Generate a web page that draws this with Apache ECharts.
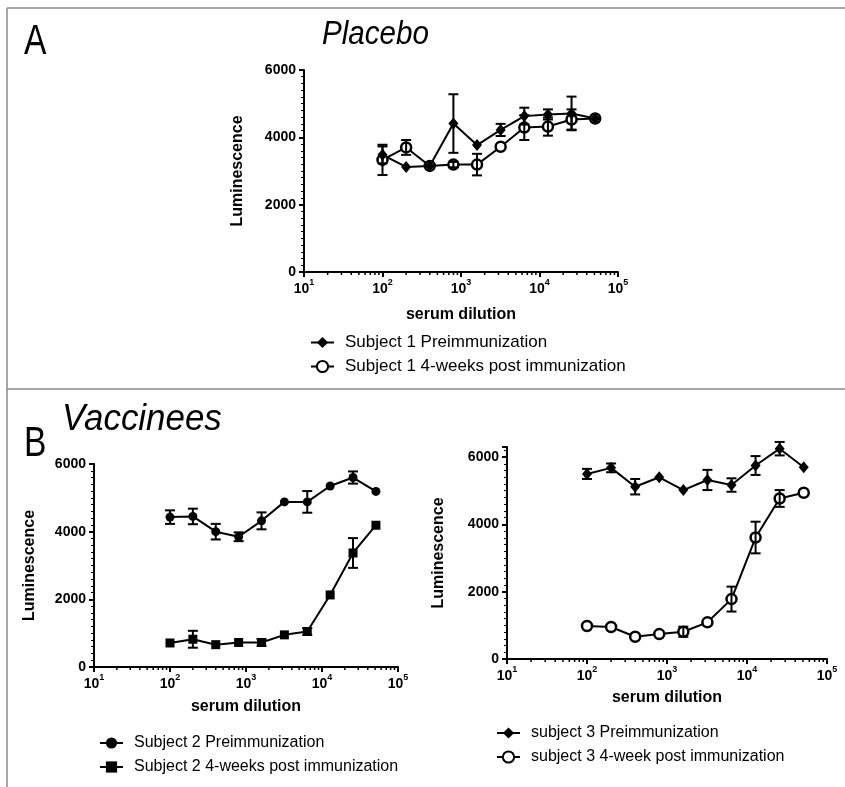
<!DOCTYPE html>
<html><head><meta charset="utf-8">
<script src="https://cdn.jsdelivr.net/npm/echarts@6/dist/echarts.min.js"></script>
<style>html,body{margin:0;padding:0;background:#fff}#c{width:845px;height:787px}</style>
</head><body><div id="c"></div>
<script>
// ---- data ----
const dilution = [100, 200, 400, 800, 1600, 3200, 6400, 12800, 25600, 51200];
const xTickExps = [1, 2, 3, 4, 5];
const yTicks = [0, 2000, 4000, 6000];

// Panel A (placebo)
const aPre     = [3480, 3120, 3150, 4410, 3770, 4220, 4630, 4680, 4710, 4560];
const aPreErr  = [250, 0, 0, 870, 0, 180, 250, 150, 500, 0];
const aPost    = [3330, 3700, 3150, 3190, 3190, 3720, 4290, 4320, 4530, 4560];
const aPostErr = [450, 220, 0, 80, 320, 0, 370, 270, 300, 0];

// Panel B left (subject 2)
const s2Pre     = [4430, 4450, 4000, 3850, 4320, 4880, 4880, 5350, 5600, 5190];
const s2PreErr  = [200, 230, 230, 130, 250, 0, 320, 0, 180, 0];
const s2Post    = [710, 820, 660, 725, 725, 950, 1050, 2130, 3370, 4190];
const s2PostErr = [0, 250, 0, 0, 100, 0, 100, 0, 440, 0];

// Panel B right (subject 3)
const s3Pre     = [5500, 5680, 5120, 5400, 5020, 5320, 5170, 5750, 6250, 5700];
const s3PreErr  = [150, 130, 230, 0, 0, 300, 200, 280, 200, 0];
const s3Post    = [980, 950, 660, 740, 810, 1090, 1780, 3610, 4770, 4940];
const s3PostErr = [0, 0, 0, 0, 150, 0, 370, 470, 250, 0];

// ---- helpers ----
const minorX = [];
for (let k = 1; k <= 4; k++) for (let m = 2; m <= 9; m++) minorX.push(m * Math.pow(10, k));

const FONT = "'Liberation Sans', Arial, sans-serif";

function pairs(ys) { return dilution.map((x, i) => [x, ys[i]]); }
function errData(ys, es) { return dilution.map((x, i) => [x, ys[i], es[i]]).filter(d => d[2] > 0); }

function errRender(params, api) {
  const x = api.value(0), y = api.value(1), e = api.value(2);
  const hi = api.coord([x, y + e]), lo = api.coord([x, y - e]);
  const w = 5;
  const st = { stroke: '#000', lineWidth: 2 };
  return { type: 'group', children: [
    { type: 'line', shape: { x1: hi[0], y1: hi[1], x2: lo[0], y2: lo[1] }, style: st },
    { type: 'line', shape: { x1: hi[0] - w, y1: hi[1], x2: hi[0] + w, y2: hi[1] }, style: st },
    { type: 'line', shape: { x1: lo[0] - w, y1: lo[1], x2: lo[0] + w, y2: lo[1] }, style: st }
  ]};
}
function minorRender(params, api) {
  const p = api.coord([api.value(0), 0]);
  return { type: 'line', shape: { x1: p[0], y1: p[1], x2: p[0], y2: p[1] + 3 }, style: { stroke: '#000', lineWidth: 1.5 } };
}

function mkX(gi, gap) {
  return {
    type: 'log', logBase: 10, min: 10, max: 100000, gridIndex: gi,
    name: 'serum dilution', nameLocation: 'middle', nameGap: gap,
    nameTextStyle: { fontFamily: FONT, fontWeight: 'bold', fontSize: 16, color: '#000' },
    axisLine: { lineStyle: { color: '#000', width: 2 } },
    axisTick: { length: 5, lineStyle: { color: '#000', width: 2 } },
    splitLine: { show: false },
    axisLabel: {
      margin: 6,
      formatter: v => '{a|10}{s|' + Math.round(Math.log10(v)) + '}',
      rich: {
        a: { fontFamily: FONT, fontWeight: 'bold', fontSize: 14, color: '#000', lineHeight: 18, verticalAlign: 'bottom' },
        s: { fontFamily: FONT, fontWeight: 'bold', fontSize: 9, color: '#000', lineHeight: 10, verticalAlign: 'top' }
      }
    }
  };
}
function mkY(gi, max, gap) {
  return {
    type: 'value', min: 0, max: max, interval: 2000, gridIndex: gi,
    name: 'Luminescence', nameLocation: 'middle', nameRotate: 90, nameGap: gap,
    nameTextStyle: { fontFamily: FONT, fontWeight: 'bold', fontSize: 16, color: '#000' },
    axisLine: { show: true, lineStyle: { color: '#000', width: 2 } },
    axisTick: { show: true, length: 5, lineStyle: { color: '#000', width: 2 } },
    minorTick: { show: true, splitNumber: 10, length: 3, lineStyle: { color: '#000', width: 1 } },
    splitLine: { show: false },
    axisLabel: {
      margin: 8, fontFamily: FONT, fontWeight: 'bold', fontSize: 14, color: '#000',
      formatter: v => (yTicks.indexOf(v) >= 0 ? String(v) : '')
    }
  };
}

const SYM = {
  diamond: { symbol: 'diamond', symbolSize: [10, 12], itemStyle: { color: '#000' } },
  openCircle: { symbol: 'circle', symbolSize: 10, itemStyle: { color: '#fff', borderColor: '#000', borderWidth: 2.5 } },
  dot: { symbol: 'circle', symbolSize: 9, itemStyle: { color: '#000' } },
  square: { symbol: 'rect', symbolSize: 9, itemStyle: { color: '#000' } }
};

function lineSeries(name, gi, ys, sym) {
  return Object.assign({
    name: name, type: 'line', xAxisIndex: gi, yAxisIndex: gi, data: pairs(ys),
    lineStyle: { color: '#000', width: 2 }, z: 2, animation: false
  }, sym);
}
function errSeries(gi, ys, es) {
  return { type: 'custom', xAxisIndex: gi, yAxisIndex: gi, data: errData(ys, es), renderItem: errRender, z: 4, animation: false, silent: true };
}
function minorSeries(gi) {
  return { type: 'custom', xAxisIndex: gi, yAxisIndex: gi, data: minorX.map(v => [v]), renderItem: minorRender, clip: false, z: 1, animation: false, silent: true };
}

function legend(names, left, top, fs, gap) {
  return {
    data: names, left: left, top: top, orient: 'vertical', padding: 0,
    itemWidth: 23, itemHeight: 14, itemGap: gap,
    textStyle: { fontFamily: FONT, fontSize: fs, color: '#000', padding: [0, 0, 0, 6] },
    selectedMode: false
  };
}

const N = {
  a1: 'Subject 1 Preimmunization', a2: 'Subject 1 4-weeks post immunization',
  b1: 'Subject 2 Preimmunization', b2: 'Subject 2 4-weeks post immunization',
  c1: 'subject 3 Preimmunization', c2: 'subject 3 4-week post immunization'
};

const option = {
  backgroundColor: '#fff',
  animation: false,
  grid: [
    { left: 304, top: 70, width: 314, height: 202 },
    { left: 94, top: 464, width: 304, height: 203 },
    { left: 507, top: 447, width: 320, height: 212 }
  ],
  xAxis: [mkX(0, 35), mkX(1, 32), mkX(2, 31)],
  yAxis: [mkY(0, 6000, 58), mkY(1, 6000, 56), mkY(2, 6300, 60)],
  legend: [
    legend([N.a1, N.a2], 310, 334, 17, 7),
    legend([N.b1, N.b2], 99, 735, 16, 8),
    legend([N.c1, N.c2], 496, 725, 16, 8)
  ],
  graphic: [
    { type: 'line', shape: { x1: 7, y1: 8, x2: 845, y2: 8 }, style: { stroke: '#8a8a8a', lineWidth: 1.5 } },
    { type: 'line', shape: { x1: 7, y1: 8, x2: 7, y2: 787 }, style: { stroke: '#8a8a8a', lineWidth: 1.5 } },
    { type: 'line', shape: { x1: 7, y1: 389, x2: 845, y2: 389 }, style: { stroke: '#8a8a8a', lineWidth: 1.5 } },
    { type: 'text', x: 24, y: 21, scaleX: 0.8, style: { text: 'A', font: '42px ' + FONT, fill: '#000' } },
    { type: 'text', x: 322, y: 18, scaleX: 0.87, style: { text: 'Placebo', font: 'italic 34px ' + FONT, fill: '#000' } },
    { type: 'text', x: 24, y: 423, scaleX: 0.8, style: { text: 'B', font: '42px ' + FONT, fill: '#000' } },
    { type: 'text', x: 62, y: 402, scaleX: 0.97, style: { text: 'Vaccinees', font: 'italic 36px ' + FONT, fill: '#000' } }
  ],
  series: [
    minorSeries(0), minorSeries(1), minorSeries(2),
    lineSeries(N.a2, 0, aPost, SYM.openCircle),
    lineSeries(N.a1, 0, aPre, SYM.diamond),
    errSeries(0, aPre, aPreErr), errSeries(0, aPost, aPostErr),
    lineSeries(N.b1, 1, s2Pre, SYM.dot),
    lineSeries(N.b2, 1, s2Post, SYM.square),
    errSeries(1, s2Pre, s2PreErr), errSeries(1, s2Post, s2PostErr),
    lineSeries(N.c1, 2, s3Pre, SYM.diamond),
    lineSeries(N.c2, 2, s3Post, SYM.openCircle),
    errSeries(2, s3Pre, s3PreErr), errSeries(2, s3Post, s3PostErr)
  ]
};
const chart = echarts.init(document.getElementById('c'));
chart.setOption(option);
</script></body></html>
